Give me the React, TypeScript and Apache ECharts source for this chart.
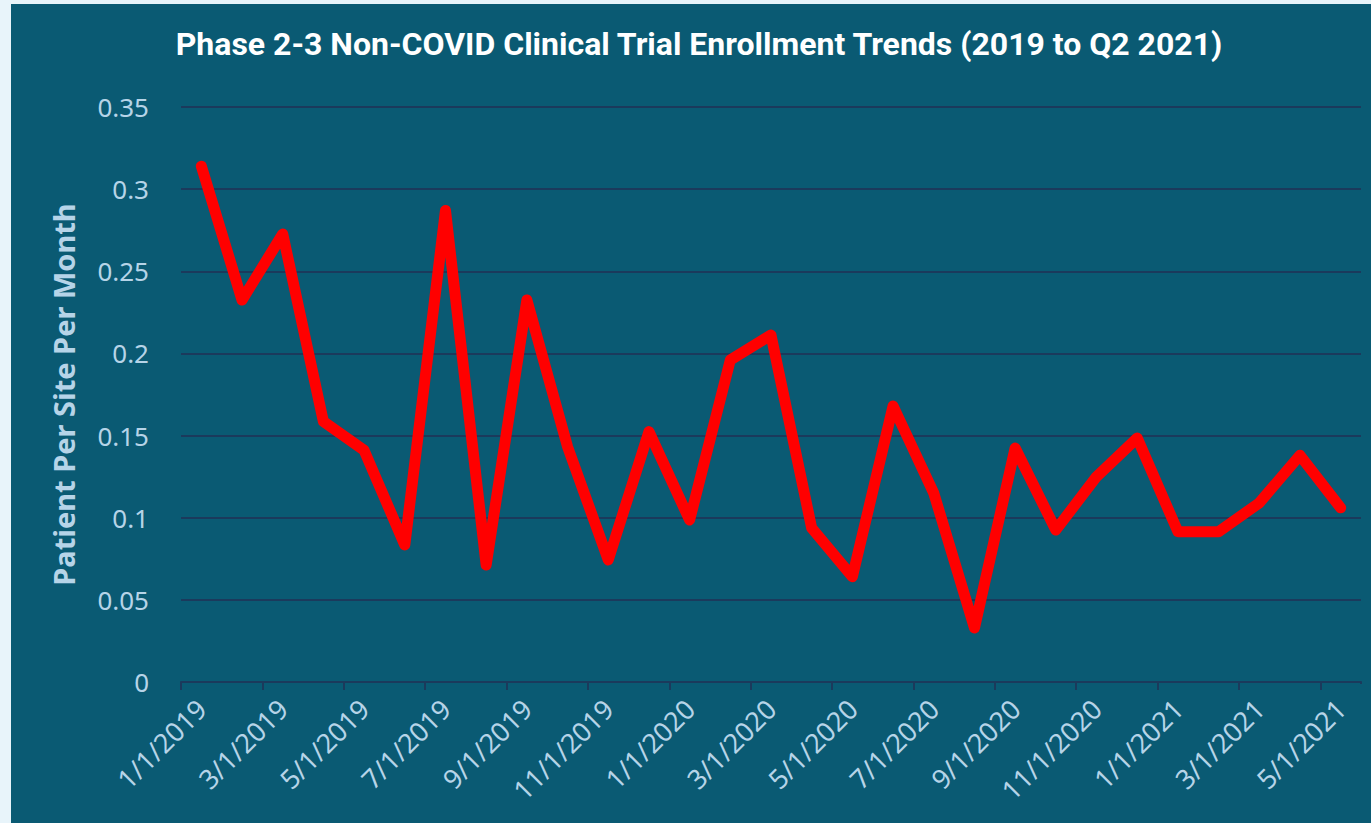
import React, { useEffect, useRef } from "react";
import * as echarts from "echarts";

const categories = [
  "1/1/2019", "2/1/2019", "3/1/2019", "4/1/2019", "5/1/2019", "6/1/2019",
  "7/1/2019", "8/1/2019", "9/1/2019", "10/1/2019", "11/1/2019", "12/1/2019",
  "1/1/2020", "2/1/2020", "3/1/2020", "4/1/2020", "5/1/2020", "6/1/2020",
  "7/1/2020", "8/1/2020", "9/1/2020", "10/1/2020", "11/1/2020", "12/1/2020",
  "1/1/2021", "2/1/2021", "3/1/2021", "4/1/2021", "5/1/2021",
];

const enrollment = [
  0.314, 0.2325, 0.2727, 0.1585, 0.141, 0.0834,
  0.287, 0.0712, 0.2325, 0.1432, 0.0743, 0.1524,
  0.0986, 0.196, 0.2112, 0.0937, 0.0641, 0.168,
  0.115, 0.0329, 0.1424, 0.0925, 0.125, 0.1485,
  0.0915, 0.0915, 0.109, 0.138, 0.106,
];

const titleText = "Phase 2-3 Non-COVID Clinical Trial Enrollment Trends (2019 to Q2 2021)";
const yAxisTitle = "Patient Per Site Per Month";

const LABEL = "#b6d4e8";
const GRIDLINE = "#1b3a5c";
const PANEL = "#0a5a73";

export default function App() {
  const ref = useRef<HTMLDivElement>(null);

  useEffect(() => {
    document.body.style.margin = "0";
    const chart = echarts.init(ref.current!, null, { renderer: "svg" });
    chart.setOption({
      animation: false,
      backgroundColor: "transparent",
      title: {
        text: titleText,
        left: 688,
        top: 24,
        padding: 0,
        textAlign: "center",
        textStyle: {
          fontFamily: "Roboto",
          fontWeight: "bold",
          fontSize: 32,
          color: "#ffffff",
        },
      },
      grid: { left: 170, right: 10, top: 103, bottom: 141, containLabel: false },
      xAxis: {
        type: "category",
        data: categories,
        boundaryGap: true,
        axisLine: { show: true, lineStyle: { color: GRIDLINE, width: 2 } },
        axisTick: { show: true, interval: 1, length: 8, lineStyle: { color: GRIDLINE, width: 2 } },
        axisLabel: {
          interval: 1,
          rotate: 45,
          margin: 22,
          color: LABEL,
          fontFamily: "Noto Sans",
          fontSize: 27,
        },
        splitLine: { show: false },
      },
      yAxis: {
        type: "value",
        min: 0,
        max: 0.35,
        interval: 0.05,
        name: yAxisTitle,
        nameLocation: "middle",
        nameGap: 103,
        nameTextStyle: {
          color: LABEL,
          fontFamily: "Noto Sans",
          fontWeight: "bold",
          fontSize: 29,
        },
        axisLine: { show: false },
        axisTick: { show: false },
        axisLabel: {
          margin: 32,
          color: LABEL,
          fontFamily: "Noto Sans",
          fontSize: 26,
        },
        splitLine: { show: true, lineStyle: { color: GRIDLINE, width: 2 } },
      },
      graphic: [
        {
          type: "rect",
          z: 100,
          silent: true,
          shape: { x: 1346, y: 680, width: 14, height: 10 },
          style: { fill: PANEL },
        },
      ],
      series: [
        {
          type: "line",
          data: enrollment,
          symbol: "none",
          lineStyle: { color: "#ff0000", width: 11, cap: "round", join: "round" },
        },
      ],
    });
    return () => chart.dispose();
  }, []);

  return (
    <div style={{ position: "relative", width: 1371, height: 823, background: "#e8f4fa", overflow: "hidden" }}>
      <div style={{ position: "absolute", left: 11, top: 4, width: 1360, height: 819, background: PANEL }}>
        <div ref={ref} style={{ width: 1360, height: 819 }} />
      </div>
    </div>
  );
}
